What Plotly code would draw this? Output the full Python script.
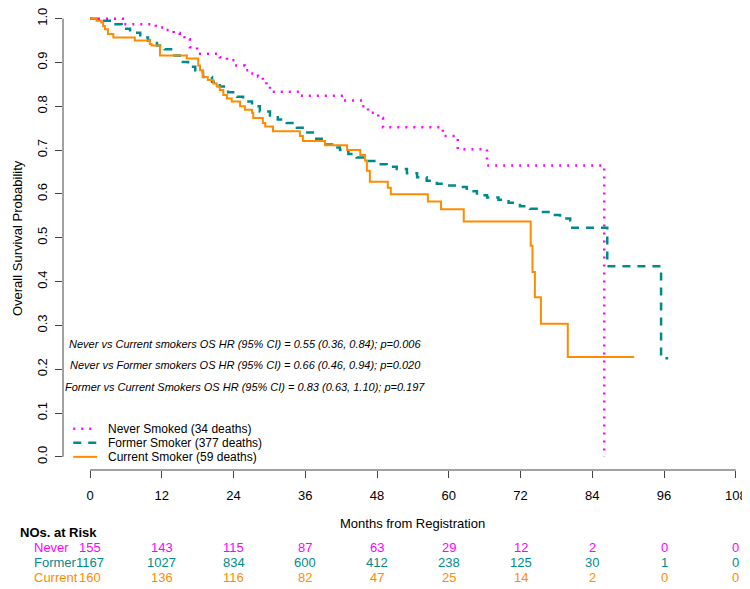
import plotly.graph_objects as go

# ---------------- data ----------------
never_t = [0, 5.5, 11, 12.5, 14, 15, 15.8, 16.7, 17.9, 21.7, 22.9, 24.2, 25.9, 26.8, 28.1, 28.9,
           29.5, 30.1, 35, 42.3, 45.5, 46.5, 48.2, 49, 59, 61.5, 66.4, 86]
never_s = [1.0, 0.987, 0.98, 0.974, 0.967, 0.96, 0.953, 0.935, 0.92, 0.912, 0.905, 0.893, 0.882, 0.875,
           0.868, 0.86, 0.847, 0.833, 0.824, 0.813, 0.80, 0.785, 0.773, 0.752, 0.732, 0.702, 0.665, 0.0]

former_t = [0, 1.7, 3.3, 5.3, 6.7, 8.4, 9.7, 11.2, 12.5, 13.9, 15.0, 16.4, 17.6, 18.9, 20.4, 21.7,
            23.1, 24.6, 25.6, 27.1, 28.4, 30.1, 31.4, 32.9, 34.6, 36.1, 37.5, 39.0, 40.5, 41.8, 43.2,
            44.6, 46.3, 48.0, 49.6, 51.3, 53.0, 54.7, 56.3, 58.0, 59.6, 61.4, 63.0, 64.7, 66.4, 68.3,
            70.0, 71.9, 73.6, 75.3, 77.0, 78.6, 80.3, 86.5, 95.5, 96.7]
former_s = [1.0, 0.995, 0.987, 0.977, 0.968, 0.957, 0.950, 0.939, 0.930, 0.916, 0.901, 0.890, 0.878,
            0.867, 0.856, 0.845, 0.832, 0.822, 0.811, 0.800, 0.788, 0.779, 0.770, 0.762, 0.751, 0.740,
            0.726, 0.713, 0.706, 0.700, 0.691, 0.683, 0.675, 0.668, 0.662, 0.657, 0.647, 0.638, 0.630,
            0.623, 0.619, 0.616, 0.606, 0.597, 0.592, 0.587, 0.580, 0.572, 0.566, 0.559, 0.552, 0.544,
            0.523, 0.435, 0.225, 0.225]

current_t = [0, 1.1, 1.9, 2.2, 2.5, 3.0, 3.9, 7.5, 10.0, 10.3, 11.7, 16.2, 18.1, 18.4, 18.9, 19.7,
             20.6, 21.2, 21.7, 22.3, 22.9, 23.7, 25.1, 25.9, 27.1, 27.3, 28.9, 29.3, 30.6, 35.1, 35.6,
             39.3, 43.0, 45.2, 46.0, 46.3, 46.8, 49.8, 50.3, 56.5, 58.7, 62.5, 73.7, 74.0, 74.4, 75.4,
             79.9, 91.0]
current_s = [1.0, 0.995, 0.991, 0.983, 0.976, 0.965, 0.957, 0.950, 0.942, 0.939, 0.916, 0.909, 0.893,
             0.882, 0.867, 0.860, 0.852, 0.845, 0.837, 0.826, 0.818, 0.811, 0.800, 0.792, 0.785, 0.773,
             0.762, 0.754, 0.743, 0.732, 0.721, 0.711, 0.700, 0.689, 0.676, 0.653, 0.628, 0.614, 0.599,
             0.583, 0.565, 0.537, 0.482, 0.422, 0.364, 0.304, 0.228, 0.228]

risk_times = [0, 12, 24, 36, 48, 60, 72, 84, 96, 108]
risk_never = [155, 143, 115, 87, 63, 29, 12, 2, 0, 0]
risk_former = [1167, 1027, 834, 600, 412, 238, 125, 30, 1, 0]
risk_current = [160, 136, 116, 82, 47, 25, 14, 2, 0, 0]

group_labels = ["Never", "Former", "Current"]
legend_labels = ["Never Smoked (34 deaths)", "Former Smoker (377 deaths)", "Current Smoker (59 deaths)"]
hr_texts = [
    "Never vs Current smokers OS HR (95% CI) = 0.55 (0.36, 0.84); p=0.006",
    "Never vs Former smokers OS HR (95% CI) = 0.66 (0.46, 0.94); p=0.020",
    "Former vs Current Smokers OS HR (95% CI) = 0.83 (0.63, 1.10); p=0.197",
]
x_ticks = [0, 12, 24, 36, 48, 60, 72, 84, 96, 108]
y_ticks = [0.0, 0.1, 0.2, 0.3, 0.4, 0.5, 0.6, 0.7, 0.8, 0.9, 1.0]

# ---------------- style ----------------
FONT = "Liberation Sans, Arial, sans-serif"
MAG = "#FF00FF"
TEAL = "#008B8B"
ORANGE = "#FF8C00"
colors = [MAG, TEAL, ORANGE]
dashes = ["2px,6px", "8px,7px", "solid"]
widths = [2.5, 2.5, 2]
AX = "#444444"

# the page body adds an 8px offset; the layout below compensates for it
OFF = 8
W, H = 742, 581
ML, MR, MT, MB = 55, 7, 0, 119
PW, PH = W - ML - MR, H - MT - MB


def px_x(p):
    return (p - OFF - ML) / PW


def px_y(p):
    return (H - MB - (p - OFF)) / PH


fig = go.Figure()
series = [(never_t, never_s), (former_t, former_s), (current_t, current_s)]
for (t, s), c, d, w, name in zip(series, colors, dashes, widths, legend_labels):
    fig.add_trace(go.Scatter(x=t, y=s, mode="lines", name=name,
                             line=dict(shape="hv", color=c, width=w, dash=d),
                             showlegend=False, hoverinfo="skip"))

annotations = []
shapes = []

# axis lines (R style, only over the data range)
shapes.append(dict(type="line", xref="x", yref="paper", x0=0, x1=108, y0=0, y1=0,
                   line=dict(color=AX, width=1)))
shapes.append(dict(type="line", xref="paper", yref="y", x0=0, x1=0, y0=0, y1=1,
                   line=dict(color=AX, width=1)))

# HR texts
for txt, yv in zip(hr_texts, [0.258, 0.210, 0.159]):
    annotations.append(dict(x=26, y=yv, xref="x", yref="y", text="<i>" + txt + "</i>",
                            showarrow=False, xanchor="center", yanchor="middle",
                            font=dict(family=FONT, size=11, color="black")))

# legend (custom, R style)
for lab, c, d, w, yv in zip(legend_labels, colors, dashes, widths, [0.064, 0.032, 0.0]):
    shapes.append(dict(type="line", xref="x", yref="y", x0=-2.8, x1=1.2, y0=yv, y1=yv,
                       line=dict(color=c, width=w, dash=d)))
    annotations.append(dict(x=2.6, y=yv, xref="x", yref="y", text=lab, showarrow=False,
                            xanchor="left", yanchor="middle",
                            font=dict(family=FONT, size=12, color="black")))

# axis titles
annotations.append(dict(x=px_x(413), y=px_y(524), xref="paper", yref="paper",
                        text="Months from Registration", showarrow=False,
                        xanchor="center", yanchor="middle",
                        font=dict(family=FONT, size=13, color="black")))
annotations.append(dict(x=px_x(17), y=px_y(235), xref="paper", yref="paper",
                        text="Overall Survival Probability", showarrow=False, textangle=-90,
                        xanchor="center", yanchor="middle",
                        font=dict(family=FONT, size=13, color="black")))

# risk table
annotations.append(dict(x=px_x(18), y=px_y(533), xref="paper", yref="paper",
                        text="<b>NOs. at Risk</b>", showarrow=False,
                        xanchor="left", yanchor="middle",
                        font=dict(family=FONT, size=13, color="black")))
for lab, vals, c, py in zip(group_labels, [risk_never, risk_former, risk_current], colors,
                            [549, 564, 579]):
    annotations.append(dict(x=px_x(32), y=px_y(py), xref="paper", yref="paper", text=lab,
                            showarrow=False, xanchor="left", yanchor="middle",
                            font=dict(family=FONT, size=13, color=c)))
    for t, v in zip(risk_times, vals):
        annotations.append(dict(x=t, y=px_y(py), xref="x", yref="paper", text=str(v),
                                showarrow=False, xanchor="center", yanchor="middle",
                                font=dict(family=FONT, size=13, color=c)))

fig.update_layout(
    width=W, height=H,
    margin=dict(l=ML, r=MR, t=MT, b=MB, pad=0),
    paper_bgcolor="white", plot_bgcolor="white",
    font=dict(family=FONT, size=13, color="black"),
    showlegend=False,
    annotations=annotations,
    shapes=shapes,
    xaxis=dict(range=[-4.515, 109.2], showgrid=False, zeroline=False, showline=False,
               tickvals=x_ticks, ticktext=[str(v) for v in x_ticks],
               ticks="outside", ticklen=7, tickcolor=AX, tickwidth=1,
               ticklabelstandoff=6, ticklabeloverflow="allow",
               tickfont=dict(family=FONT, size=13, color="black")),
    yaxis=dict(range=[-0.030, 1.0106], showgrid=False, zeroline=False, showline=False,
               tickvals=y_ticks, ticktext=["%.1f" % v for v in y_ticks], tickangle=-90,
               ticks="outside", ticklen=7, tickcolor=AX, tickwidth=1,
               ticklabelstandoff=3, ticklabeloverflow="allow",
               tickfont=dict(family=FONT, size=13, color="black")),
)

fig.write_html("out.html")
